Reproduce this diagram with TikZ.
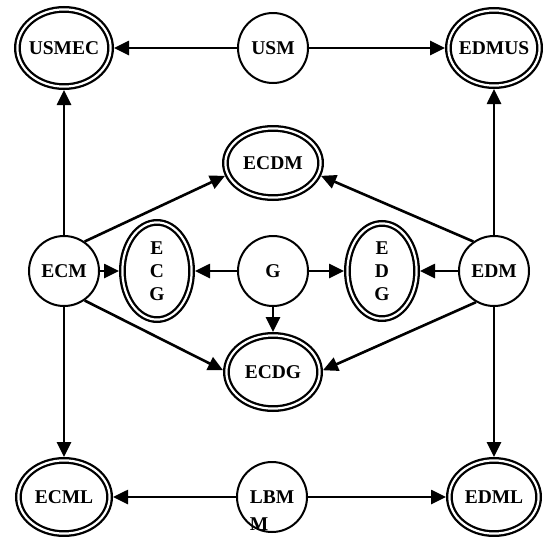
\documentclass[tikz,border=0pt]{standalone}
\usepackage{fontspec}
\setmainfont{Liberation Serif}
\usetikzlibrary{shapes.geometric,arrows.meta}
\begin{document}
\begin{tikzpicture}[x=1pt,y=-1pt,
  every node/.style={font=\fontsize{19.5}{23}\selectfont\bfseries},
  circ/.style={circle, draw, line width=2pt, minimum size=70pt, inner sep=0pt},
  ring/.style={ellipse, draw, line width=2.3pt, double=white, double distance=2.2pt,
               inner sep=0pt, outer sep=3.4pt, align=center},
  conn/.style={line width=2.6pt, -{Triangle[length=15pt,width=14pt]}}]
\useasboundingbox (0,0) rectangle (544,536);
% nodes
\node[ring, minimum width=93.2pt, minimum height=77.2pt] (USMEC) at (64,48) {\makebox[0pt]{USMEC}};
\node[circ] (USM) at (273,48) {USM};
\node[ring, minimum width=91.2pt, minimum height=75.2pt] (EDMUS) at (494,48) {\makebox[0pt]{EDMUS}};
\node[ring, minimum width=95.2pt, minimum height=69.2pt] (ECDM) at (273,163) {ECDM};
\node[circ] (ECM) at (64,271) {ECM};
\node[ring, minimum width=69.2pt, minimum height=97.2pt] (ECG) at (157,271) {E\\C\\G};
\node[circ] (G) at (273,271) {G};
\node[ring, minimum width=69.2pt, minimum height=95.2pt] (EDG) at (382,271) {E\\D\\G};
\node[circ] (EDM) at (494,271) {EDM};
\node[ring, minimum width=93.2pt, minimum height=73.2pt] (ECDG) at (273,372) {ECDG};
\node[ring, minimum width=91.2pt, minimum height=73.2pt] (ECML) at (64,497) {ECML};
\node[circ] (LBM) at (272,497) {\rlap{\raisebox{-27pt}[0pt][0pt]{M}}LBM};
\node[ring, minimum width=89.2pt, minimum height=73.2pt] (EDML) at (494,497) {EDML};
% connectors
\draw[conn] (USM) -- (USMEC);
\draw[conn] (USM) -- (EDMUS);
\draw[conn] (ECM) -- (USMEC);
\draw[conn] (EDM) -- (EDMUS);
\draw[conn] (ECM) -- (ECML);
\draw[conn] (EDM) -- (EDML);
\draw[conn] (LBM) -- (ECML);
\draw[conn] (LBM) -- (EDML);
\draw[conn] (ECM) -- (ECG);
\draw[conn] (G) -- (ECG);
\draw[conn] (G) -- (EDG);
\draw[conn] (EDM) -- (EDG);
\draw[conn] (G) -- (ECDG);
\draw[conn] (ECM.55) -- (ECDM.195);
\draw[conn] (ECM.-55) -- (ECDG.178);
\draw[conn] (EDM.125) -- (ECDM.345);
\draw[conn] (EDM.-120) -- (ECDG.2);
\end{tikzpicture}
\end{document}
